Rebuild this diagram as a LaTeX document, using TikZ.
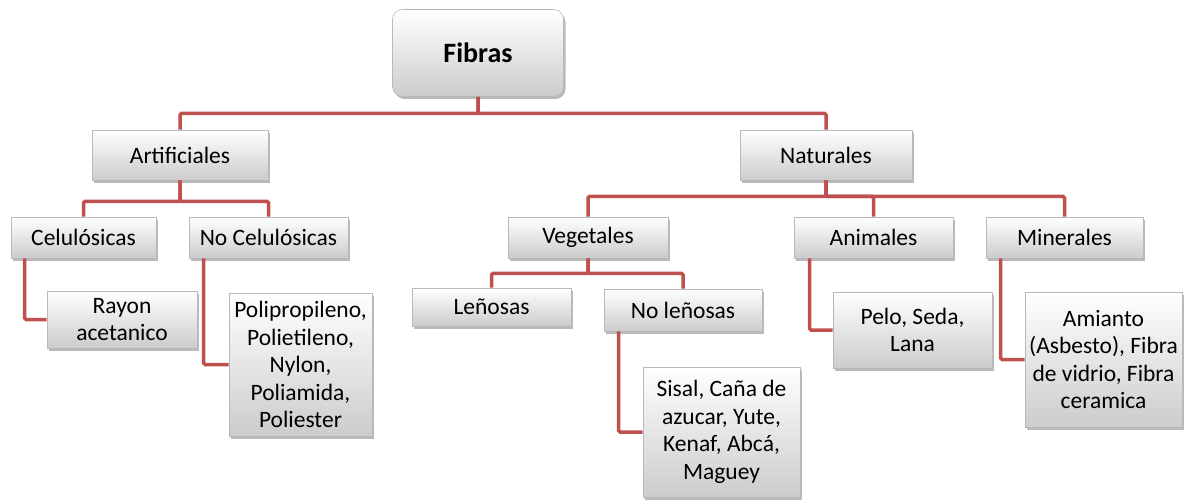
\documentclass[tikz,border=0pt]{standalone}
\usepackage{fontspec}
\setmainfont{Carlito}
\usepackage{tikz}
\usetikzlibrary{shadows}
\definecolor{linea}{RGB}{192,80,77}

\begin{document}
\begin{tikzpicture}[x=1pt, y=-1pt,
	caja/.style={draw=gray!55, line width=0.6pt, top color=white, bottom color=gray!40,
		drop shadow={shadow xshift=2pt, shadow yshift=-2.5pt, fill=black!60, opacity=0.45},
		inner sep=0pt, align=center, font=\fontsize{23.5}{27.5}\selectfont},
	raiz/.style={caja, rounded corners=10pt, font=\fontsize{28}{32}\selectfont\bfseries},
	rama/.style={draw=linea, line width=3.5pt, rounded corners=1.5pt}]
		\useasboundingbox (0,0) rectangle (1190,500);

		\node[raiz, minimum width=171, minimum height=87] (fibras) at (478,53) {Fibras};
		\node[caja, minimum width=176, minimum height=50] (artif) at (180,155) {Artificiales};
		\node[caja, minimum width=172, minimum height=50] (natur) at (826,155) {Naturales};

		\node[caja, minimum width=145, minimum height=41] (celul) at (83.5,237.5) {Celulósicas};
		\node[caja, minimum width=159, minimum height=41] (nocel) at (268.5,237.5) {No Celulósicas};
		\node[caja, minimum width=160, minimum height=41] (veget) at (588,237.5) {Vegetales};
		\node[caja, minimum width=159, minimum height=41] (anim) at (873.5,237.5) {Animales};
		\node[caja, minimum width=157, minimum height=41] (miner) at (1064.5,237.5) {Minerales};

		\node[caja, minimum width=159, minimum height=38] (lenos) at (491.5,307) {Leñosas};
		\node[caja, minimum width=158, minimum height=42] (nolen) at (683,310) {No leñosas};

		\node[caja, minimum width=150, minimum height=57] (rayon) at (122,319.5) {Rayon\\acetanico};
		\node[caja, minimum width=143, minimum height=143] (polip) at (300.5,364.5) {Polipropileno,\\Polietileno,\\Nylon,\\Poliamida,\\Poliester};
		\node[caja, minimum width=157, minimum height=130] (sisal) at (721.5,432) {Sisal, Caña de\\azucar, Yute,\\Kenaf, Abcá,\\Maguey};
		\node[caja, minimum width=159, minimum height=76] (pelo) at (912.5,330) {Pelo, Seda,\\Lana};
		\node[caja, minimum width=157, minimum height=135] (amian) at (1103.5,359.5) {Amianto\\(Asbesto), Fibra\\de vidrio, Fibra\\ceramica};

		\draw[rama] (fibras.south) -- ++(0,16.5) -| (artif.north);
		\draw[rama] (fibras.south) -- ++(0,16.5) -| (natur.north);
		\draw[rama] (artif.south) -- ++(0,21) -| (celul.north);
		\draw[rama] (artif.south) -- ++(0,21) -| (nocel.north);
		\draw[rama] (natur.south) -- ++(0,16) -| (veget.north);
		\draw[rama] (natur.south) -- ++(0,16) -| (anim.north);
		\draw[rama] (natur.south) -- ++(0,16) -| (miner.north);
		\draw[rama] (veget.south) -- ++(0,15) -| (lenos.north);
		\draw[rama] (veget.south) -- ++(0,15) -| (nolen.north);

		\draw[rama] ([xshift=14pt]celul.south west) |- (rayon.west);
		\draw[rama] ([xshift=15pt]nocel.south west) |- (polip.west);
		\draw[rama] ([xshift=15pt]nolen.south west) |- (sisal.west);
		\draw[rama] ([xshift=16pt]anim.south west) |- (pelo.west);
		\draw[rama] ([xshift=15pt]miner.south west) |- (amian.west);

	\end{tikzpicture}
\end{document}
